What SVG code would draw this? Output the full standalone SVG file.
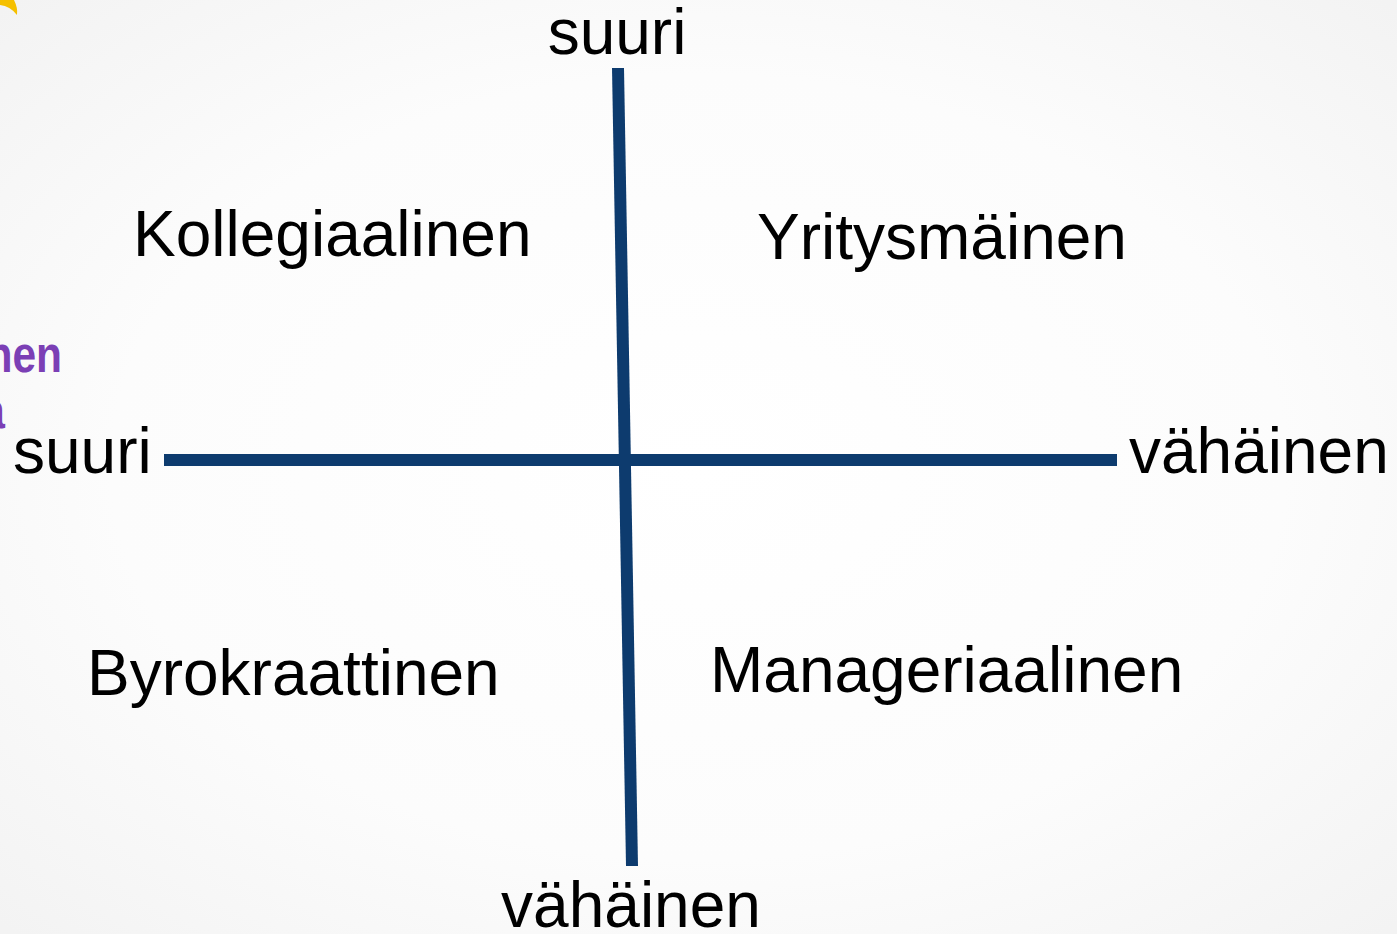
<svg xmlns="http://www.w3.org/2000/svg" width="1397" height="934" viewBox="0 0 1397 934">
<style>
.lbl{font-family:"Liberation Sans",Arial,sans-serif;font-size:64px;fill:#000}
.axis{stroke:#0d3b6e;stroke-width:12;fill:none}
.purple{font-family:"Liberation Sans",Arial,sans-serif;font-weight:bold;font-size:50px;fill:#7b3fb5}
</style>
<defs>
<radialGradient id="bg" cx="50%" cy="50%" r="70%">
<stop offset="0" stop-color="#ffffff"/>
<stop offset="0.6" stop-color="#fcfcfc"/>
<stop offset="1" stop-color="#f3f3f3"/>
</radialGradient>
</defs>
<rect width="1397" height="934" fill="url(#bg)"/>
<path d="M0,0 L14,0 Q18,8 17,15 Q10,6 0,5 Z" fill="#f5c000"/>
<g id="fragment">
<text class="purple" transform="translate(62,372) scale(0.85,1.05)" text-anchor="end">nen</text>
<text class="purple" transform="translate(5,428) scale(0.85,1.05)" text-anchor="end">a</text>
</g>
<g id="connectors">
<line class="axis" x1="618" y1="68" x2="632" y2="866"/>
<line class="axis" x1="164" y1="460" x2="1117" y2="460"/>
</g>
<g id="axis-top"><text class="lbl" x="617" y="54" text-anchor="middle">suuri</text></g>
<g id="axis-bottom"><text class="lbl" x="631" y="927" text-anchor="middle">vähäinen</text></g>
<g id="axis-left"><text class="lbl" x="13" y="473">suuri</text></g>
<g id="axis-right"><text class="lbl" x="1129" y="473">vähäinen</text></g>
<g id="q-kollegiaalinen"><text class="lbl" x="133" y="256">Kollegiaalinen</text></g>
<g id="q-yritysmainen"><text class="lbl" x="757" y="259">Yritysmäinen</text></g>
<g id="q-byrokraattinen"><text class="lbl" x="87" y="695">Byrokraattinen</text></g>
<g id="q-manageriaalinen"><text class="lbl" x="710" y="692">Manageriaalinen</text></g>
</svg>
